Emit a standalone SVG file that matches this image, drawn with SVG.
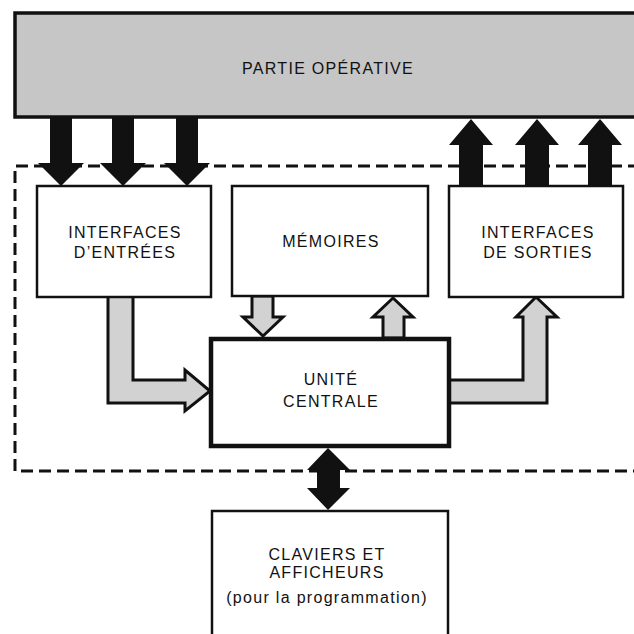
<svg xmlns="http://www.w3.org/2000/svg" width="634" height="634" viewBox="0 0 634 634">
<defs>
<style>
.box{fill:#ffffff;stroke:#111;stroke-width:2.5}
.thick{fill:#ffffff;stroke:#111;stroke-width:4.5}
.gray{fill:#c6c6c6;stroke:#111;stroke-width:3.5}
.ga{fill:#d2d2d2;stroke:#111;stroke-width:3;stroke-linejoin:miter}
.ba{fill:#111;stroke:none}
.dash{fill:none;stroke:#111;stroke-width:3;stroke-dasharray:12 6}
text{font-family:"Liberation Sans",Arial,sans-serif;font-size:16px;fill:#111;text-anchor:middle;letter-spacing:1.3px}
</style>
</defs>
<rect width="634" height="634" fill="#ffffff"/>
<g id="boundary">
<path class="dash" d="M640 166 H15 V471 H640"/>
</g>
<g id="partie-operative">
<rect class="gray" x="15" y="13" width="640" height="104"/>
<text x="328" y="74">PARTIE OPÉRATIVE</text>
</g>
<g id="connectors">
<polygon class="ba" points="50,117 72,117 72,163 84,163 61,186 38,163 50,163"/>
<polygon class="ba" points="112,117 134,117 134,163 146,163 123,186 100,163 112,163"/>
<polygon class="ba" points="176,117 198,117 198,163 210,163 187,186 164,163 176,163"/>
<polygon class="ba" points="459,186 483,186 483,145 493,145 471,119 449,145 459,145"/>
<polygon class="ba" points="525,186 549,186 549,145 559,145 537,119 515,145 525,145"/>
<polygon class="ba" points="588,186 612,186 612,145 622,145 600,119 578,145 588,145"/>
<polygon class="ga" points="252,296 273,296 273,317 283,317 263,336 243,317 252,317"/>
<polygon class="ga" points="383,338 404,338 404,317 413,317 393,298 373,317 383,317"/>
<path class="ga" d="M108 297 V403 H185 V411 L210 391 L185 370 V380 H133 V297"/>
<path class="ga" d="M450 403 H547 V317 H557 L536 297 L516 317 H523 V380 H450"/>
<polygon class="ba" points="328,448 350,470 340,470 340,488 350,488 328,510 307,488 317,488 317,470 307,470"/>
</g>
<g id="interfaces-entrees">
<rect class="box" x="37" y="186" width="174" height="111"/>
<text x="125" y="238">INTERFACES</text>
<text x="125" y="258">D’ENTRÉES</text>
</g>
<g id="memoires">
<rect class="box" x="232" y="186" width="196" height="110"/>
<text x="331" y="247">MÉMOIRES</text>
</g>
<g id="interfaces-sorties">
<rect class="box" x="449" y="186" width="174" height="111"/>
<text x="538" y="238">INTERFACES</text>
<text x="538" y="258">DE  SORTIES</text>
</g>
<g id="unite-centrale">
<rect class="thick" x="211" y="339" width="238" height="107"/>
<text x="331" y="385">UNITÉ</text>
<text x="331" y="407">CENTRALE</text>
</g>
<g id="claviers">
<rect class="box" x="212" y="511" width="236" height="140"/>
<text x="327" y="560">CLAVIERS  ET</text>
<text x="327" y="578">AFFICHEURS</text>
<text x="327" y="603">(pour la programmation)</text>
</g>
</svg>
